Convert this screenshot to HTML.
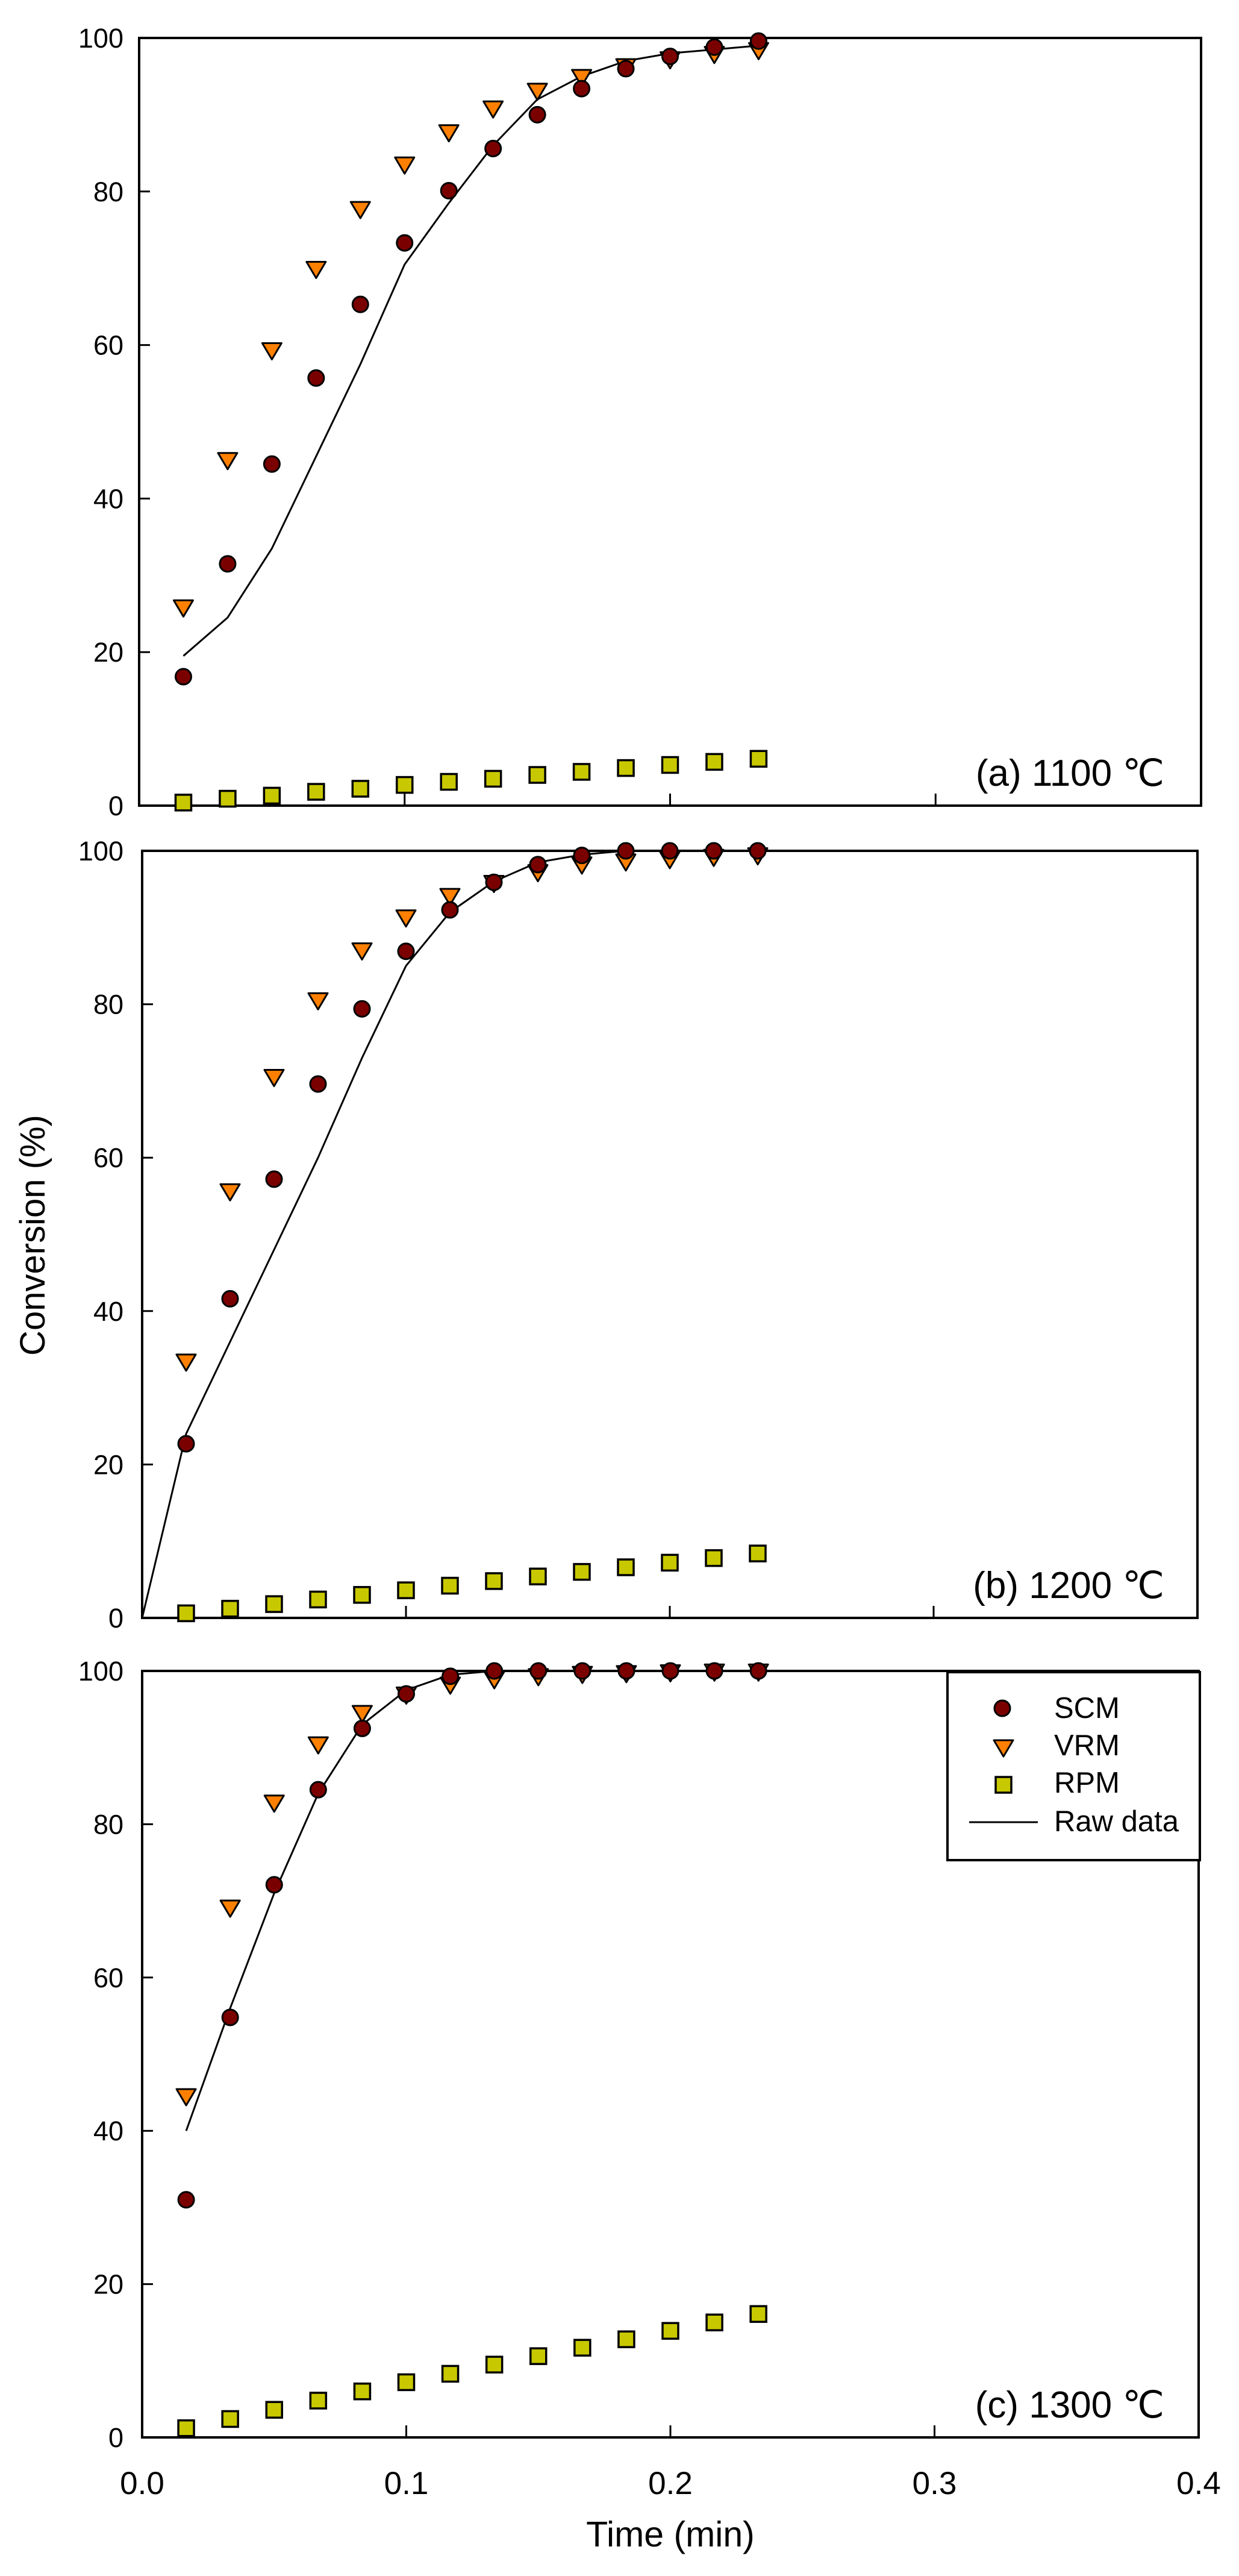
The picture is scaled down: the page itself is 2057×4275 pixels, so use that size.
<!DOCTYPE html>
<html><head><meta charset="utf-8"><style>html,body{margin:0;padding:0;background:#fff}svg{display:block}</style></head>
<body>
<svg id="s" width="2057" height="4275" xmlns="http://www.w3.org/2000/svg" font-family="Liberation Sans, Arial, sans-serif"></svg>
<script>
const s=document.getElementById('s');let h='';
const panels=[
 {l:231,r:1994,t:63,b:1337,lab:'(a) 1100 ℃',
  scm:[16.8,31.5,44.5,55.7,65.3,73.3,80.1,85.6,90,93.4,96,97.6,98.8,99.6],
  vrm:[25.8,45,59.3,69.9,77.7,83.5,87.7,90.8,93.1,94.9,96.3,97.2,97.9,98.4],
  rpm:[0.4,0.9,1.3,1.8,2.2,2.7,3.1,3.5,4,4.4,4.9,5.3,5.7,6.1],
  raw:[[1,19.5],[2,24.5],[3,33.5],[4,45.5],[5,57.5],[6,70.5],[7,78.5],[8,86],[9,92],[10,95],[11,97],[12,98],[13,98.5],[14,99]]},
 {l:236,r:1988,t:1412,b:2685,lab:'(b) 1200 ℃',
  scm:[22.7,41.6,57.2,69.6,79.4,86.9,92.3,95.9,98.2,99.4,100,100,100,100],
  vrm:[33.4,55.6,70.5,80.5,87,91.3,94.1,95.8,97.2,98.2,98.6,98.9,99.2,99.4],
  rpm:[0.6,1.2,1.8,2.4,3,3.6,4.2,4.8,5.4,6,6.6,7.2,7.8,8.4],
  raw:[[0,0],[1,24],[2,36],[3,48],[4,60],[5,73],[6,85],[7,92],[8,96],[9,98.5],[10,99.5],[11,100],[12,100],[13,100],[14,100]]},
 {l:236,r:1990,t:2773,b:4045,lab:'(c) 1300 ℃',
  scm:[31,54.8,72.1,84.5,92.5,97,99.3,100,100,100,100,100,100,100],
  vrm:[44.5,69.1,82.8,90.4,94.5,96.9,98.2,98.9,99.3,99.6,99.7,99.8,99.9,99.9],
  rpm:[1.2,2.4,3.6,4.8,6,7.2,8.3,9.5,10.6,11.7,12.8,13.9,15,16.1],
  raw:[[1,40],[2,56],[3,71],[4,84],[5,93],[6,97.5],[7,99.5],[8,100],[9,100],[10,100],[11,100],[12,100],[13,100],[14,100]]}
];
function circ(x,y){return `<circle cx="${x}" cy="${y}" r="13" fill="#7a0000" stroke="#000" stroke-width="3"/>`;}
function tri(x,y){return `<polygon points="${x-16},${y-12} ${x+16},${y-12} ${x},${y+15}" fill="#ff8000" stroke="#000" stroke-width="3" stroke-linejoin="round"/>`;}
function sq(x,y){return `<rect x="${x-13}" y="${y-13}" width="26" height="26" fill="#c8c800" stroke="#000" stroke-width="3.5"/>`;}
panels.forEach((p,pi)=>{
 const W=p.r-p.l,H=p.b-p.t;
 const X=v=>p.l+v/0.4*W, Y=v=>p.b-v/100*H, XI=i=>X(i/60);
 h+=`<rect x="${p.l}" y="${p.t}" width="${W}" height="${H}" fill="none" stroke="#000" stroke-width="4"/>`;
 for(let v=0;v<=100;v+=20){const y=Y(v);h+=`<line x1="${p.l}" y1="${y}" x2="${p.l+18}" y2="${y}" stroke="#000" stroke-width="3"/>`;
  h+=`<text x="205" y="${y+16}" font-size="45" text-anchor="end">${v}</text>`;}
 for(let k=1;k<=3;k++){const x=X(k/10);h+=`<line x1="${x}" y1="${p.b}" x2="${x}" y2="${p.b-20}" stroke="#000" stroke-width="3"/>`;}
 h+=`<polyline points="${p.raw.map(a=>XI(a[0])+','+Y(a[1])).join(' ')}" fill="none" stroke="#000" stroke-width="3"/>`;
 p.rpm.forEach((v,i)=>h+=sq(XI(i+1),Y(v)));
 p.vrm.forEach((v,i)=>h+=tri(XI(i+1),Y(v)));
 p.scm.forEach((v,i)=>h+=circ(XI(i+1),Y(v)));
 h+=`<text x="1933" y="${p.b-33}" font-size="62" text-anchor="end">${p.lab}</text>`;
 if(pi==2){
  [['0.0',0],['0.1',.1],['0.2',.2],['0.3',.3],['0.4',.4]].forEach(a=>h+=`<text x="${X(a[1])}" y="4139" font-size="53" text-anchor="middle">${a[0]}</text>`);
 }
});
// legend
h+=`<rect x="1573" y="2775" width="419" height="312" fill="#fff" stroke="#000" stroke-width="4"/>`;
h+=circ(1664,2835)+tri(1666,2900)+sq(1666,2962);
h+=`<line x1="1609" y1="3024" x2="1723" y2="3024" stroke="#000" stroke-width="3"/>`;
[['SCM',2851],['VRM',2913],['RPM',2975],['Raw data',3039]].forEach(a=>h+=`<text x="1750" y="${a[1]}" font-size="49">${a[0]}</text>`);
h+=`<text x="1113" y="4226" font-size="59" text-anchor="middle">Time (min)</text>`;
h+=`<text transform="translate(74,2050) rotate(-90)" font-size="58" text-anchor="middle">Conversion (%)</text>`;
s.innerHTML=h;
</script>
</body></html>
